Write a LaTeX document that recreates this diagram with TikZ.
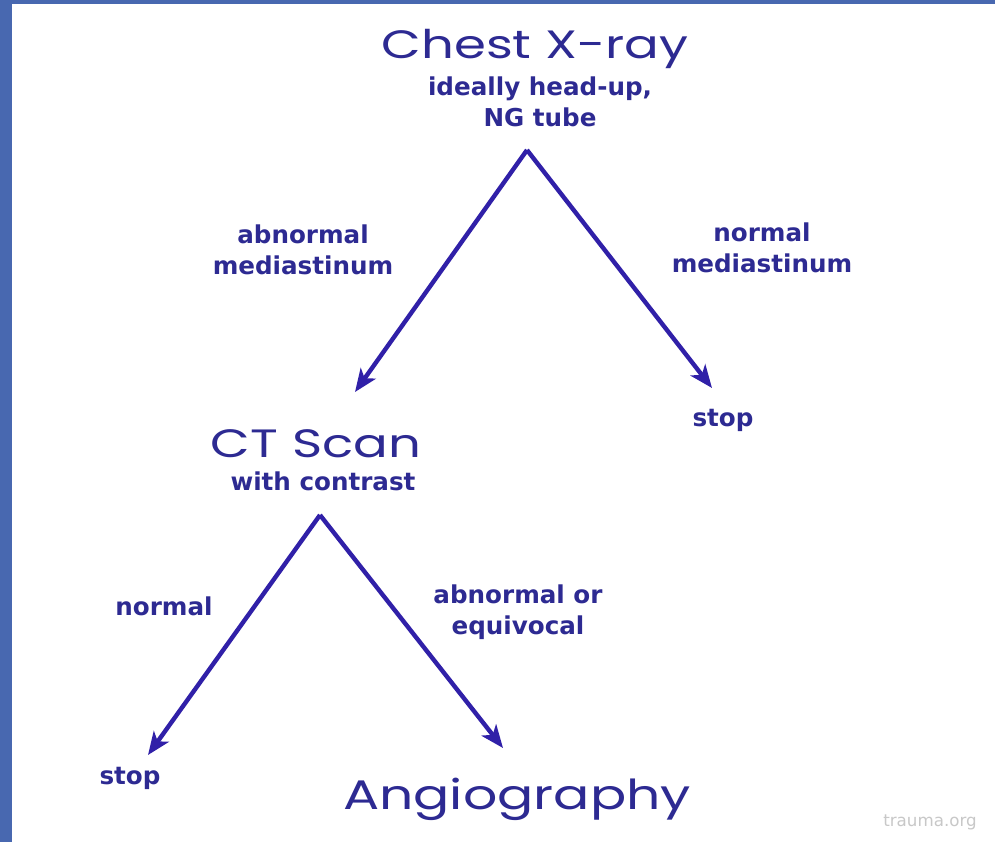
\documentclass[tikz,border=0pt]{standalone}
\usepackage{fontspec}
\usepackage{tikz}
\usetikzlibrary{arrows.meta,positioning}
\setmainfont{DejaVu Sans}
\newfontfamily\headfont[FakeStretch=1.3]{Poppins}
\definecolor{frame}{HTML}{4868B0}
\definecolor{ink}{HTML}{2D2A92}
\definecolor{arrowblue}{HTML}{3020A8}
\definecolor{mark}{HTML}{C8C8C8}

\begin{document}
\begin{tikzpicture}[
  x=0.2mm, y=-0.2mm,
  head/.style={font=\headfont\fontsize{22.5}{26}\selectfont, text=ink, inner sep=0pt, anchor=base},
  note/.style={font=\bfseries\fontsize{14}{17.6}\selectfont, text=ink, align=center, inner sep=0pt},
  arr/.style={-{Stealth[length=13pt,width=10.5pt,inset=3.5pt]}, line width=2.5pt, arrowblue}
]
% page and blue frame
\fill[white] (0,0) rectangle (995,842);
\fill[frame] (0,0) rectangle (12,842);
\fill[frame] (0,0) rectangle (995,4);
\useasboundingbox (0,0) rectangle (995,842);

% first step
\node[head] (xray) at (535,58) {Chest X-ray};
\node[note] (xraysub) at (540,102) {ideally head-up,\\NG tube};
\coordinate (xrayapex) at (527,150);
\coordinate (cttip) at (355,392);
\coordinate (stoptip) at (712,388);
\draw[arr] (xrayapex) -- (cttip);
\draw[arr] (xrayapex) -- (stoptip);
\node[note] (abmed) at (303,250) {abnormal\\mediastinum};
\node[note] (normed) at (762,248) {normal\\mediastinum};
\node[note] (stopa) at (723,420) {stop};

% second step
\node[head] (ct) at (316,457) {CT Scan};
\node[note] (ctsub) at (323,481) {with contrast};
\coordinate (ctapex) at (320,515);
\coordinate (stopbtip) at (148,755);
\coordinate (angiotip) at (503,748);
\draw[arr] (ctapex) -- (stopbtip);
\draw[arr] (ctapex) -- (angiotip);
\node[note] (norm) at (164,606) {normal};
\node[note] (abeq) at (518,612) {abnormal or\\equivocal};
\node[note] (stopb) at (130,778) {stop};
\node[head, font=\headfont\fontsize{23.5}{27}\selectfont] (angio) at (517,809) {Angiography};

% watermark
\node[font=\fontsize{9.5}{11}\selectfont, text=mark, inner sep=0pt] (site) at (930,822) {trauma.org};
\end{tikzpicture}
\end{document}
